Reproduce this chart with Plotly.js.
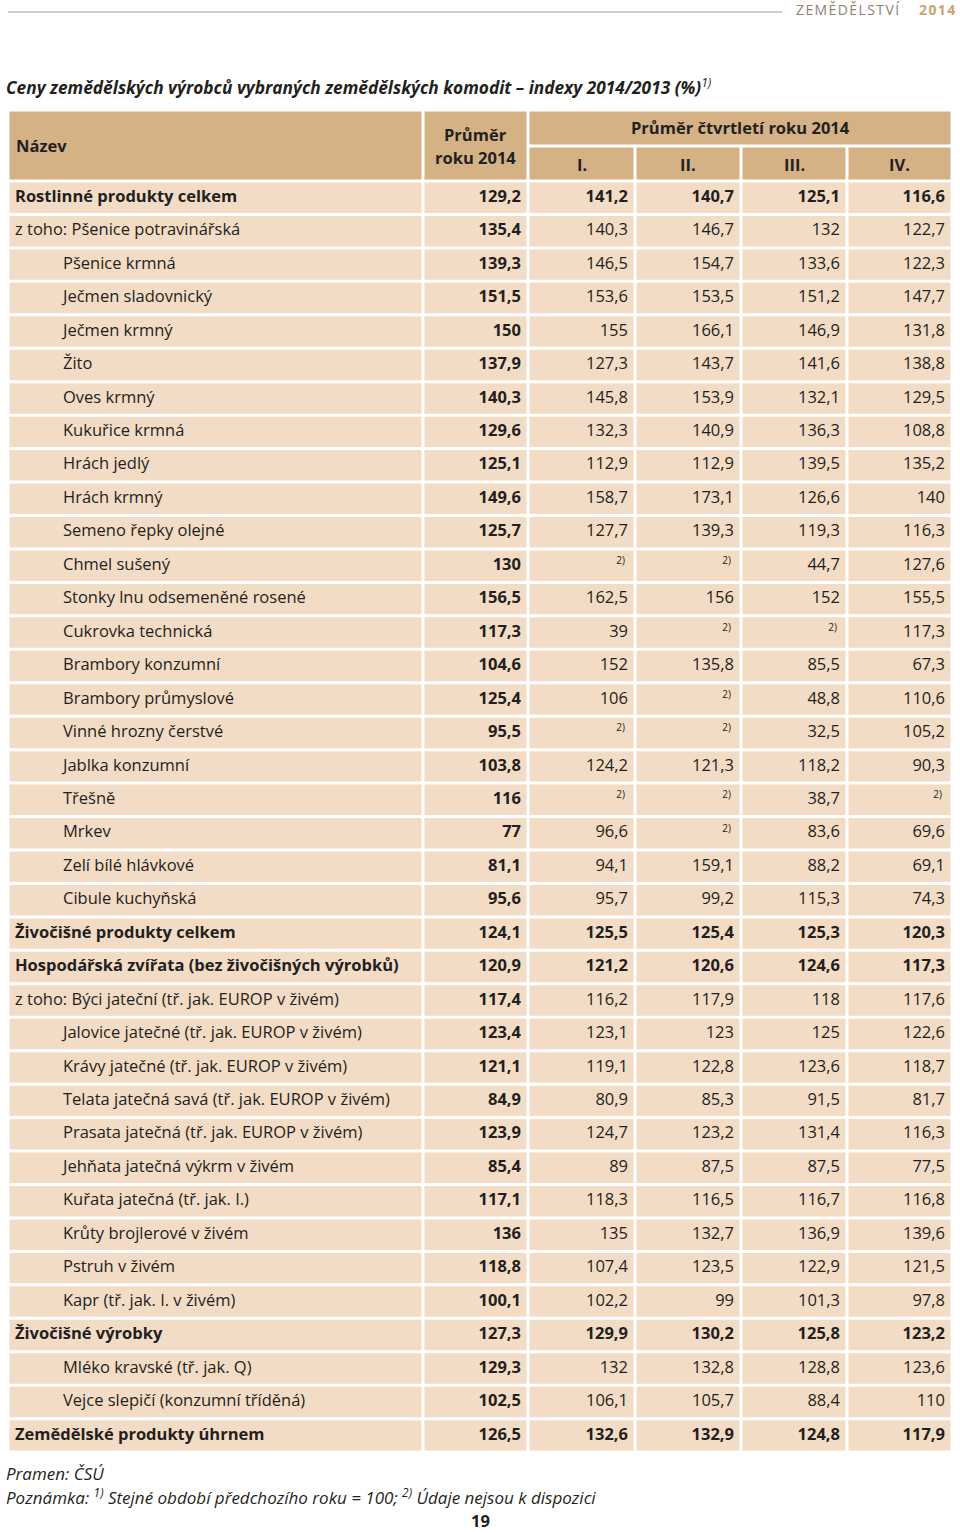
<!DOCTYPE html>
<html><head><meta charset="utf-8">
<script src="https://cdn.plot.ly/plotly-3.0.1.min.js"></script>
<style>html,body{margin:0;padding:0;background:#fff}</style>
</head><body><div id="chart" style="width:960px;height:1533px"></div>
<script>
// ---------- DATA ----------
const names = [
 "Rostlinné produkty celkem","z toho: Pšenice potravinářská","Pšenice krmná","Ječmen sladovnický","Ječmen krmný","Žito","Oves krmný","Kukuřice krmná","Hrách jedlý","Hrách krmný","Semeno řepky olejné","Chmel sušený","Stonky lnu odsemeněné rosené","Cukrovka technická","Brambory konzumní","Brambory průmyslové","Vinné hrozny čerstvé","Jablka konzumní","Třešně","Mrkev","Zelí bílé hlávkové","Cibule kuchyňská",
 "Živočišné produkty celkem","Hospodářská zvířata (bez živočišných výrobků)","z toho: Býci jateční (tř. jak. EUROP v živém)","Jalovice jatečné (tř. jak. EUROP v živém)","Krávy jatečné (tř. jak. EUROP v živém)","Telata jatečná savá (tř. jak. EUROP v živém)","Prasata jatečná (tř. jak. EUROP v živém)","Jehňata jatečná výkrm v živém","Kuřata jatečná (tř. jak. I.)","Krůty brojlerové v živém","Pstruh v živém","Kapr (tř. jak. I. v živém)","Živočišné výrobky","Mléko kravské (tř. jak. Q)","Vejce slepičí (konzumní tříděná)","Zemědělské produkty úhrnem"
];
const level = [0,0,1,1,1,1,1,1,1,1,1,1,1,1,1,1,1,1,1,1,1,1, 0,0,0,1,1,1,1,1,1,1,1,1,0,1,1,0];
const boldRow = [1,0,0,0,0,0,0,0,0,0,0,0,0,0,0,0,0,0,0,0,0,0, 1,1,0,0,0,0,0,0,0,0,0,0,1,0,0,1];
const avg2014 = [129.2,135.4,139.3,151.5,150,137.9,140.3,129.6,125.1,149.6,125.7,130,156.5,117.3,104.6,125.4,95.5,103.8,116,77,81.1,95.6,124.1,120.9,117.4,123.4,121.1,84.9,123.9,85.4,117.1,136,118.8,100.1,127.3,129.3,102.5,126.5];
const q1 = [141.2,140.3,146.5,153.6,155,127.3,145.8,132.3,112.9,158.7,127.7,null,162.5,39,152,106,null,124.2,null,96.6,94.1,95.7,125.5,121.2,116.2,123.1,119.1,80.9,124.7,89,118.3,135,107.4,102.2,129.9,132,106.1,132.6];
const q2 = [140.7,146.7,154.7,153.5,166.1,143.7,153.9,140.9,112.9,173.1,139.3,null,156,null,135.8,null,null,121.3,null,null,159.1,99.2,125.4,120.6,117.9,123,122.8,85.3,123.2,87.5,116.5,132.7,123.5,99,130.2,132.8,105.7,132.9];
const q3 = [125.1,132,133.6,151.2,146.9,141.6,132.1,136.3,139.5,126.6,119.3,44.7,152,null,85.5,48.8,32.5,118.2,38.7,83.6,88.2,115.3,125.3,124.6,118,125,123.6,91.5,131.4,87.5,116.7,136.9,122.9,101.3,125.8,128.8,88.4,124.8];
const q4 = [116.6,122.7,122.3,147.7,131.8,138.8,129.5,108.8,135.2,140,116.3,127.6,155.5,117.3,67.3,110.6,105.2,90.3,null,69.6,69.1,74.3,120.3,117.3,117.6,122.6,118.7,81.7,116.3,77.5,116.8,139.6,121.5,97.8,123.2,123.6,110,117.9];
const headName = "Název";
const headAvg = ["Průměr", "roku 2014"];
const headQuarters = "Průměr čtvrtletí roku 2014";
const quarterLabels = ["I.","II.","III.","IV."];
const titleText = "Ceny zemědělských výrobců vybraných zemědělských komodit – indexy 2014/2013 (%)";
const naMark = "2)";
const sourceText = "Pramen: ČSÚ";
const noteText = "Poznámka: <sup>1)</sup> Stejné období předchozího roku = 100; <sup>2)</sup> Údaje nejsou k dispozici";
const pageNo = "19";

// ---------- LAYOUT ----------
const W = 960, H = 1533;
const FONT = "'Open Sans', sans-serif";
const FS = 16.5;
const TXT = "#231f20";
const HEAD_BG = "#d5b285";
const ROW_BG = "#f3dcc5";
const colEdges = [8, 423, 528, 635, 741, 847, 952];
const headTop = 110, headMid = 146;
const bodyTop = 181, rowH = 33.45;
const ry = p => (p - bodyTop) / rowH - 0.5;   // pixel -> row units
const gapX = 1.5, gapY = 1.5 / rowH;
const padL = 7, padR = 7, indentPx = 48;

const fmt = v => String(v).replace(".", ",");
const rows = names.map((_, i) => i);

const shapes = [];
const ann = [];
function cell(x0, x1, y0, y1, color) {
  shapes.push({type: "rect", xref: "x", yref: "y", x0: x0 + gapX, x1: x1 - gapX, y0: y0 + gapY, y1: y1 - gapY,
    fillcolor: color, line: {width: 0}, layer: "below"});
}
// body cells
rows.forEach(i => { for (let c = 0; c < 6; c++) cell(colEdges[c], colEdges[c + 1], i - 0.5, i + 0.5, ROW_BG); });
// header cells
cell(colEdges[0], colEdges[1], ry(headTop), -0.5, HEAD_BG);
cell(colEdges[1], colEdges[2], ry(headTop), -0.5, HEAD_BG);
cell(colEdges[2], colEdges[6], ry(headTop), ry(headMid), HEAD_BG);
for (let q = 0; q < 4; q++) cell(colEdges[2 + q], colEdges[3 + q], ry(headMid), -0.5, HEAD_BG);

const traces = [];
// name column
traces.push({type: "scatter", mode: "text", cliponaxis: false, hoverinfo: "skip",
  x: rows.map(i => colEdges[0] + padL + level[i] * indentPx), y: rows,
  text: rows.map(i => boldRow[i] ? "<b>" + names[i] + "</b>" : names[i]),
  textposition: "middle right", textfont: {family: FONT, size: FS, color: TXT}});
// numeric columns
[avg2014, q1, q2, q3, q4].forEach((arr, k) => {
  const c = k + 1;
  const ok = rows.filter(i => arr[i] !== null);
  const na = rows.filter(i => arr[i] === null);
  traces.push({type: "scatter", mode: "text", cliponaxis: false, hoverinfo: "skip",
    x: ok.map(() => colEdges[c + 1] - padR), y: ok,
    text: ok.map(i => (k === 0 || boldRow[i]) ? "<b>" + fmt(arr[i]) + "</b>" : fmt(arr[i])),
    textposition: "middle left", textfont: {family: FONT, size: FS, color: TXT}});
  if (na.length) traces.push({type: "scatter", mode: "text", cliponaxis: false, hoverinfo: "skip",
    x: na.map(() => colEdges[c + 1] - padR - 3), y: na.map(i => i - 0.12),
    text: na.map(() => naMark),
    textposition: "middle left", textfont: {family: FONT, size: 10, color: TXT}});
});

// header texts
const hfont = {family: FONT, size: FS, color: TXT};
const A = (o) => ann.push(Object.assign({showarrow: false, xref: "x", yref: "y", font: hfont, borderpad: 0}, o));
A({text: "<b>" + headName + "</b>", x: colEdges[0] + padL, y: ry((headTop + bodyTop) / 2), xanchor: "left", yanchor: "middle"});
A({text: "<b>" + headAvg[0] + "</b>", x: (colEdges[1] + colEdges[2]) / 2, y: ry(134), xanchor: "center", yanchor: "middle"});
A({text: "<b>" + headAvg[1] + "</b>", x: (colEdges[1] + colEdges[2]) / 2, y: ry(157), xanchor: "center", yanchor: "middle"});
A({text: "<b>" + headQuarters + "</b>", x: (colEdges[2] + colEdges[6]) / 2, y: ry(127), xanchor: "center", yanchor: "middle"});
quarterLabels.forEach((q, i) => A({text: "<b>" + q + "</b>", x: (colEdges[2 + i] + colEdges[3 + i]) / 2, y: ry(164), xanchor: "center", yanchor: "middle"}));

// page furniture
shapes.push({type: "line", xref: "x", yref: "y", x0: 8, x1: 782, y0: ry(12), y1: ry(12), line: {color: "#a99c80", width: 1.2}});
A({text: "Z\u200AE\u200AM\u200AĚ\u200AD\u200AĚ\u200AL\u200AS\u200AT\u200AV\u200AÍ", x: 795, y: ry(9), xanchor: "left", yanchor: "middle", font: {family: FONT, size: 14, color: "#8d8270"}});
A({text: "<b>2\u200A0\u200A1\u200A4</b>", x: 956, y: ry(9), xanchor: "right", yanchor: "middle", font: {family: FONT, size: 14, color: "#c8a56f"}});
A({text: "<b><i>" + titleText + "</i></b><i><sup>1)</sup></i>", x: 5, y: ry(86), xanchor: "left", yanchor: "middle", font: {family: FONT, size: 17.3, color: TXT}});
A({text: "<i>" + sourceText + "</i>", x: 5, y: ry(1473), xanchor: "left", yanchor: "middle", font: {family: FONT, size: 17, color: TXT}});
A({text: "<i>" + noteText + "</i>", x: 5, y: ry(1496), xanchor: "left", yanchor: "middle", font: {family: FONT, size: 17, color: TXT}});
A({text: "<b>" + pageNo + "</b>", x: 480, y: ry(1520), xanchor: "center", yanchor: "middle", font: {family: FONT, size: 16.5, color: TXT}});

Plotly.newPlot("chart", traces, {
  width: W, height: H, margin: {l: 0, r: 0, t: 0, b: 0, pad: 0},
  paper_bgcolor: "#ffffff", plot_bgcolor: "#ffffff",
  xaxis: {range: [0, W], visible: false, fixedrange: true},
  yaxis: {range: [ry(H), ry(0)], visible: false, fixedrange: true},
  shapes: shapes, annotations: ann, showlegend: false
}, {staticPlot: true, displayModeBar: false});
</script></body></html>
